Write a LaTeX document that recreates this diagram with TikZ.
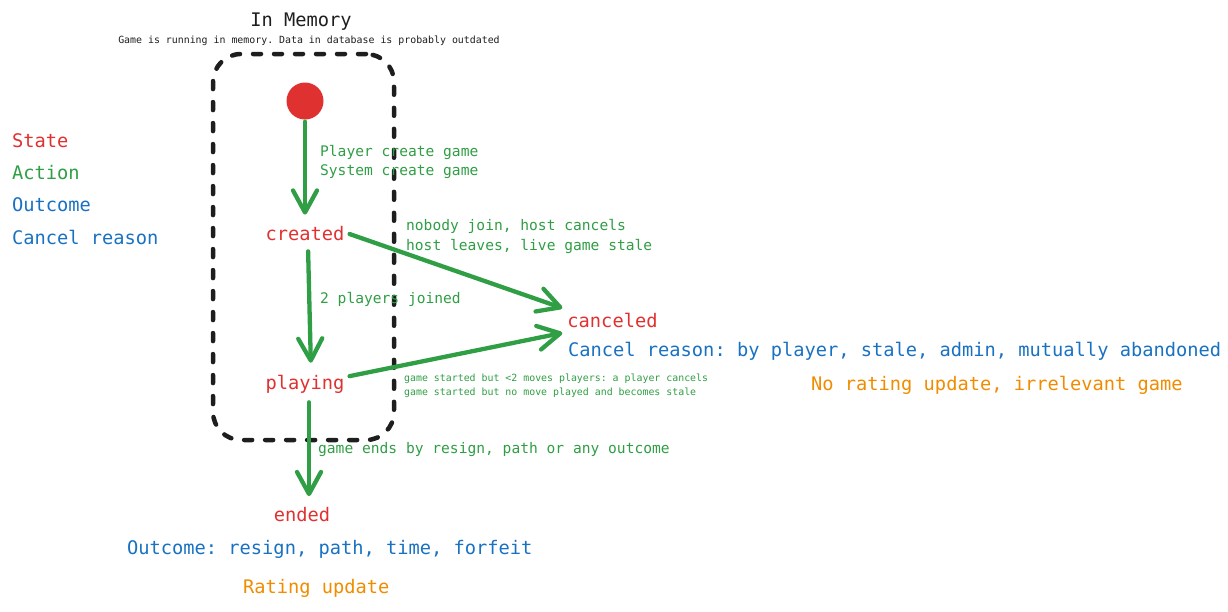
\documentclass[tikz,border=0pt]{standalone}
\usepackage{fontspec}
\setmainfont{DejaVu Sans Mono}
\usetikzlibrary{arrows.meta}
\definecolor{state_red}{RGB}{224,49,49}
\definecolor{action_green}{RGB}{47,158,68}
\definecolor{outcome_blue}{RGB}{25,113,194}
\definecolor{rating_orange}{RGB}{240,140,0}
\definecolor{frame_black}{RGB}{30,30,30}
\frenchspacing

\begin{document}
\begin{tikzpicture}[x=1pt,y=-1pt,line width=4.3pt,>={Straight Barb[length=22pt,width=24pt,round]}]
    \tikzstyle{big}=[inner sep=3pt,font=\fontsize{18.7}{22}\selectfont]
    \tikzstyle{mid}=[inner sep=0pt,anchor=west,font=\fontsize{14.6}{17}\selectfont,text=action_green]
    \tikzstyle{small}=[inner sep=0pt,anchor=west,font=\fontsize{9.9}{12}\selectfont,text=action_green]
    \tikzstyle{state}=[style=big,text=state_red]
    \tikzstyle{note}=[style=big,inner sep=0pt,anchor=west]
    \tikzstyle{action}=[->,draw=action_green,line cap=round]
    \tikzstyle{memframe}=[draw=frame_black,line width=4.5pt,dash pattern=on 8pt off 13pt,line cap=round,
                          rounded corners=28pt,minimum width=181pt,minimum height=386pt,inner sep=0pt]

    \useasboundingbox (0,0) rectangle (1228,611);

    % in memory frame
    \node[memframe] (mem) at (303.5,247) {};
    \node[big,inner sep=0pt,text=frame_black] (memtitle) at (301,22) {In Memory};
    \node[inner sep=0pt,text=frame_black,font=\fontsize{9.9}{12}\selectfont] (memsub) at (309,41)
        {Game is running in memory. Data in database is probably outdated};

    % legend
    \node[note,text=state_red]     (lstate)  at (10,141) {State};
    \node[note,text=action_green]  (laction) at (10,173) {Action};
    \node[note,text=outcome_blue]  (lout)    at (10,205) {Outcome};
    \node[note,text=outcome_blue]  (lreason) at (10,237) {Cancel reason};

    % states
    \node[circle,fill=state_red,minimum size=37pt,inner sep=0pt] (start) at (305,101) {};
    \node[state] (created)  at (305,234)   {created};
    \node[state] (playing)  at (305,384)   {playing};
    \node[state] (canceled) at (612.5,320.5) {canceled};
    \node[state] (ended)    at (302,514.5) {ended};

    % actions
    \node[mid] (acreate1) at (318,152) {Player create game};
    \node[mid] (acreate2) at (318,172) {System create game};
    \node[mid] (acancel1) at (404,226) {nobody join, host cancels};
    \node[mid] (acancel2) at (404,246) {host leaves, live game stale};
    \node[mid] (ajoin)    at (318,299) {2 players joined};
    \node[small] (astop1) at (402,379) {game started but <2 moves players: a player cancels};
    \node[small] (astop2) at (402,393) {game started but no move played and becomes stale};
    \node[mid] (aend)     at (316,450) {game ends by resign, path or any outcome};

    % outcomes
    \node[note,text=outcome_blue]  (oreason) at (566,351) {Cancel reason: by player, stale, admin, mutually abandoned};
    \node[note,text=rating_orange] (onorate) at (809,385) {No rating update, irrelevant game};
    \node[note,text=outcome_blue]  (oended)  at (125,549) {Outcome: resign, path, time, forfeit};
    \node[note,text=rating_orange] (orate)   at (241,588) {Rating update};

    \path
     (start)                  edge[action,shorten >=7pt]               (created)
     (created.east)           edge[action]                             (canceled.north west)
     ([xshift=3pt]created.south) edge[action,shorten <=5pt,shorten >=7pt] ([xshift=6pt]playing.north)
     (playing.10)             edge[action]                             (canceled.south west)
     ([xshift=4pt]playing.south) edge[action,shorten <=4pt,shorten >=6pt] ([xshift=7pt]ended.north)
     ;
\end{tikzpicture}
\end{document}
